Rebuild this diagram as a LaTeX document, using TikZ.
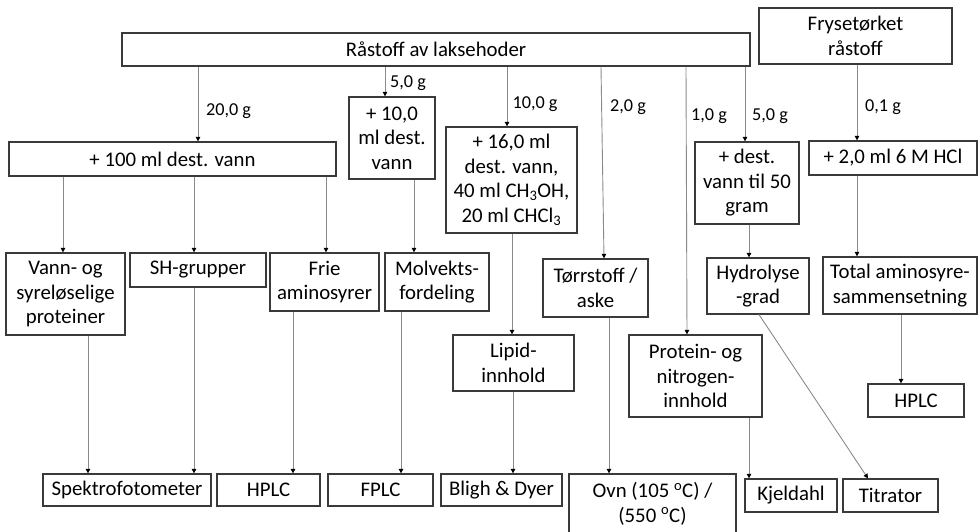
\documentclass[tikz,border=0pt]{standalone}
\usepackage{fontspec}
\setmainfont{Carlito}
\usetikzlibrary{arrows.meta}
\definecolor{boxline}{HTML}{3A3A3A}
\definecolor{conn}{HTML}{8A8A8A}
\tikzset{
  box/.style={draw=boxline, line width=1.3pt, align=center, inner sep=0pt,
    font=\fontsize{20.8}{24.5}\selectfont},
  arr/.style={draw=conn, line width=0.9pt, -{Triangle[length=4.5pt,width=4.5pt,black]}},
  lbl/.style={inner sep=0pt, font=\fontsize{18.2}{21.6}\selectfont}
}
\begin{document}
\begin{tikzpicture}[x=1pt,y=-1pt]
\useasboundingbox (0,0) rectangle (978,531);
% top
\node[box, minimum width=628, minimum height=33] (r) at (436,49.5) {Råstoff av laksehoder};
\node[box, minimum width=193, minimum height=56] (fry) at (855.5,36) {Frysetørket\\råstoff};
% second row
\node[box, minimum width=327, minimum height=34] (b100) at (172.5,159) {+ 100 ml dest. vann};
\node[box, minimum width=86, minimum height=82] (b10) at (392,138) {+ 10,0\\ml dest.\\vann};
\node[box, minimum width=131, minimum height=106] (b16) at (511.5,180) {+ 16,0 ml\\dest. vann,\\40 ml CH\textsubscript{3}OH,\\20 ml CHCl\textsubscript{3}};
\node[box, minimum width=104, minimum height=82] (b50) at (747,183) {+ dest.\\vann til 50\\gram};
\node[box, minimum width=168, minimum height=34] (hcl) at (893,158) {+ 2,0 ml 6 M HCl};
% analyses
\node[box, minimum width=119, minimum height=82] (vann) at (65.5,294) {Vann- og\\syreløselige\\proteiner};
\node[box, minimum width=136, minimum height=34] (sh) at (198,270) {SH-grupper};
\node[box, minimum width=109, minimum height=58] (frie) at (324.5,282) {Frie\\aminosyrer};
\node[box, minimum width=104, minimum height=58] (mol) at (437,282) {Molvekts-\\fordeling};
\node[box, minimum width=121, minimum height=56] (lip) at (513.5,363) {Lipid-\\innhold};
\node[box, minimum width=105, minimum height=58] (tor) at (595.5,288) {Tørrstoff /\\aske};
\node[box, minimum width=133, minimum height=82] (pro) at (695.5,376) {Protein- og\\nitrogen-\\innhold};
\node[box, minimum width=102, minimum height=56] (hyd) at (758,286) {Hydrolyse\\-grad};
\node[box, minimum width=154, minimum height=57] (tot) at (900,285.5) {Total aminosyre-\\sammensetning};
\node[box, minimum width=96, minimum height=33] (hplcb) at (916,400.5) {HPLC};
% methods
\node[box, minimum width=168, minimum height=32] (spek) at (127,490) {Spektrofotometer};
\node[box, minimum width=103, minimum height=32] (hplca) at (268.5,490) {HPLC};
\node[box, minimum width=105, minimum height=32] (fplc) at (380.5,490) {FPLC};
\node[box, minimum width=121, minimum height=32] (bligh) at (501.5,490) {Bligh \& Dyer};
\node[box, minimum width=167, minimum height=60] (ovn) at (652.5,504) {Ovn (105 \textsuperscript{o}C) /\\(550 \textsuperscript{o}C)};
\node[box, minimum width=92, minimum height=33] (kjel) at (791,495.5) {Kjeldahl};
\node[box, minimum width=95, minimum height=33] (tit) at (890.5,495.5) {Titrator};
% connectors from raw material
\draw[arr] (198,0 |- r.south) -- (198,0 |- b100.north);
\draw[arr] (385,0 |- r.south) -- (385,0 |- b10.north);
\draw[arr] (507,0 |- r.south) -- (507,0 |- b16.north);
\draw[arr] (601,0 |- r.south) -- (604,0 |- tor.north);
\draw[arr] (686,0 |- r.south) -- (687,0 |- pro.north);
\draw[arr] (745,0 |- r.south) -- (745,0 |- b50.north);
\draw[arr] (857,0 |- fry.south) -- (857,0 |- hcl.north);
% labels
\node[lbl] (l1) at (228.5,111) {20,0 g};
\node[lbl] (l2) at (408,83) {5,0 g};
\node[lbl] (l3) at (535,104) {10,0 g};
\node[lbl] (l4) at (628,107) {2,0 g};
\node[lbl] (l5) at (709,116) {1,0 g};
\node[lbl] (l6) at (770,116) {5,0 g};
\node[lbl] (l7) at (883,107) {0,1 g};
% second level
\draw[arr] (63,0 |- b100.south) -- (63,0 |- vann.north);
\draw[arr] (194,0 |- b100.south) -- (194,0 |- sh.north);
\draw[arr] (326,0 |- b100.south) -- (326,0 |- frie.north);
\draw[arr] (414,0 |- b10.south) -- (414,0 |- mol.north);
\draw[arr] (512,0 |- b16.south) -- (512,0 |- lip.north);
\draw[arr] (749,0 |- b50.south) -- (749,0 |- hyd.north);
\draw[arr] (857,0 |- hcl.south) -- (857,0 |- tot.north);
% to methods
\draw[arr] (88,0 |- vann.south) -- (88,0 |- spek.north);
\draw[arr] (194,0 |- sh.south) -- (194,0 |- spek.north);
\draw[arr] (293,0 |- frie.south) -- (293,0 |- hplca.north);
\draw[arr] (401,0 |- mol.south) -- (401,0 |- fplc.north);
\draw[arr] (513,0 |- lip.south) -- (513,0 |- bligh.north);
\draw[arr] (609,0 |- tor.south) -- (609,0 |- ovn.north);
\draw[arr] (749,0 |- pro.south) -- (749,0 |- kjel.north);
\draw[arr] (759,0 |- hyd.south) -- (868,0 |- tit.north);
\draw[arr] (901,0 |- tot.south) -- (901,0 |- hplcb.north);
\end{tikzpicture}
\end{document}
